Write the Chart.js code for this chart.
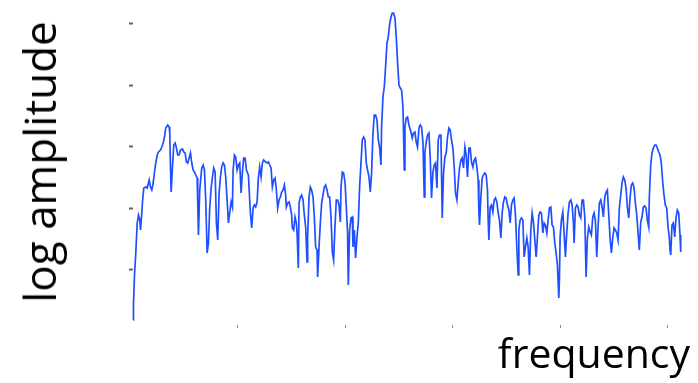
<!DOCTYPE html>
<html>
<head>
<meta charset="utf-8">
<script src="https://cdn.jsdelivr.net/npm/chart.js@4/dist/chart.umd.min.js"></script>
<style>
  html, body { margin: 0; padding: 0; background: #fff; }
  #wrap { position: relative; width: 698px; height: 383px; overflow: hidden; }
  #wrap canvas { position: absolute; left: 0; top: 0; }
  .lbl { position: absolute; font-family: "Open Sans", sans-serif; line-height: 1; color: #000; white-space: nowrap; }
  #ylab { left: 39px; top: 162px; font-size: 44px; transform: translate(-50%, -50%) rotate(-90deg); }
  #xlab { right: 8px; top: 332px; font-size: 41px; }
</style>
</head>
<body>
<div id="wrap">
  <canvas id="c" width="698" height="383"></canvas>
  <div class="lbl" id="ylab">log amplitude</div>
  <div class="lbl" id="xlab">frequency</div>
</div>
<script>
"use strict";
// spectrum (arbitrary units)
const freq = [
  2.7, 3.0, 4.0, 5.3, 6.7, 8.0, 9.3, 10.0, 11.3, 12.0, 13.3, 15.3, 16.7, 18.7, 20.0, 21.3, 22.7, 24.0, 25.3, 26.7,
  28.0, 30.0, 31.3, 32.7, 34.0, 35.3, 37.3, 38.7, 39.3, 40.0, 40.7, 42.0, 43.3, 44.7, 46.0, 47.3, 48.7, 50.0, 52.0, 53.3,
  54.7, 56.0, 57.3, 58.7, 60.0, 61.3, 62.7, 64.0, 65.3, 66.7, 67.3, 68.0, 69.3, 71.3, 72.7, 74.0, 75.3, 76.7, 78.0, 79.3,
  80.7, 82.0, 83.3, 84.7, 86.0, 87.3, 88.7, 90.0, 91.3, 92.7, 94.0, 95.3, 96.7, 98.0, 99.3, 100.7, 102.0, 102.7, 104.0, 105.3,
  106.7, 108.0, 109.3, 110.7, 112.0, 113.3, 114.7, 116.0, 118.0, 120.0, 121.3, 122.7, 124.0, 125.3, 126.7, 128.0, 129.3, 130.7, 132.0, 133.3,
  135.3, 136.7, 138.0, 139.3, 140.7, 142.0, 143.3, 144.7, 146.0, 147.3, 148.7, 150.0, 151.3, 152.7, 154.0, 155.3, 156.0, 157.3, 158.7, 160.0,
  161.3, 162.0, 163.3, 164.7, 166.0, 166.7, 168.0, 168.7, 170.0, 171.3, 172.7, 174.0, 175.3, 176.7, 177.3, 178.7, 180.0, 181.3, 182.7, 184.0,
  185.3, 186.7, 187.3, 188.7, 190.0, 191.3, 192.7, 194.0, 195.3, 196.7, 198.0, 199.3, 200.7, 202.0, 203.3, 204.7, 206.0, 207.3, 208.7, 210.0,
  210.7, 212.0, 213.3, 214.7, 216.0, 217.3, 218.0, 219.3, 220.7, 222.0, 222.7, 224.0, 225.3, 226.7, 228.0, 229.3, 230.7, 232.0, 233.3, 234.7,
  236.0, 237.3, 238.7, 240.0, 241.3, 242.7, 244.0, 245.3, 246.7, 248.0, 249.3, 250.7, 251.3, 252.7, 254.0, 255.3, 256.7, 258.0, 259.3, 260.7,
  262.0, 263.3, 264.7, 266.0, 267.3, 268.7, 270.0, 271.3, 272.7, 273.3, 274.0, 274.7, 276.0, 277.3, 278.7, 280.7, 282.0, 283.3, 284.7, 286.0,
  287.3, 288.7, 290.0, 291.3, 292.7, 294.0, 294.7, 296.0, 297.3, 298.7, 300.0, 301.3, 302.7, 304.0, 305.3, 306.7, 308.0, 309.3, 310.7, 312.0,
  313.3, 314.7, 316.0, 317.3, 318.7, 320.0, 321.3, 322.7, 324.0, 325.3, 326.7, 328.0, 329.3, 330.7, 332.0, 333.3, 334.7, 336.0, 337.3, 338.7,
  340.0, 341.3, 342.7, 344.0, 345.3, 346.7, 348.0, 348.7, 349.3, 350.7, 352.0, 353.3, 354.7, 356.0, 357.3, 358.0, 358.7, 360.0, 361.3, 362.7,
  364.0, 365.3, 366.7, 368.0, 369.3, 370.7, 372.0, 373.3, 374.7, 376.0, 377.3, 378.7, 380.0, 381.3, 382.7, 384.0, 385.3, 386.7, 388.0, 388.7,
  390.0, 391.3, 392.7, 394.0, 395.3, 396.7, 398.0, 399.3, 400.7, 402.0, 403.3, 404.7, 406.0, 407.3, 408.7, 410.0, 411.3, 412.7, 414.0, 415.3,
  416.7, 418.0, 419.3, 420.7, 422.0, 423.3, 424.7, 426.0, 427.3, 428.7, 429.3, 430.0, 431.3, 432.7, 434.0, 435.3, 436.7, 438.0, 439.3, 440.7,
  442.0, 443.3, 444.0, 445.3, 446.7, 448.0, 449.3, 450.7, 452.0, 453.3, 454.7, 456.0, 457.3, 458.7, 460.0, 461.3, 462.7, 464.0, 465.3, 466.7,
  468.0, 469.3, 470.7, 472.0, 473.3, 474.7, 476.0, 477.3, 478.7, 480.0, 481.3, 482.7, 484.0, 485.3, 486.7, 488.0, 489.3, 490.7, 492.0, 493.3,
  494.7, 496.0, 497.3, 498.7, 500.0, 501.3, 502.7, 504.0, 505.3, 506.7, 508.0, 509.3, 510.7, 512.0, 513.3, 514.7, 516.0, 517.3, 518.7, 519.3,
  520.7, 522.0, 523.3, 524.7, 526.0, 527.3, 528.7, 530.0, 531.3, 532.7, 534.0, 535.3, 536.7, 538.0, 539.3, 540.0, 540.7, 542.0, 543.3, 544.7,
  546.0, 547.3, 548.7, 550.0, 550.7
];
const amp = [
  11, 28, 56, 78, 108, 116, 111, 101, 118, 129, 143, 144, 143, 151, 144, 141, 148, 159, 168, 176,
  179, 181, 184, 188, 194, 203, 206, 204, 198, 164, 139, 164, 186, 188, 183, 176, 176, 181, 182, 179,
  178, 169, 168, 173, 178, 168, 161, 159, 156, 153, 128, 96, 141, 163, 166, 161, 131, 78, 88, 123,
  143, 154, 163, 159, 108, 91, 138, 154, 164, 168, 166, 154, 131, 108, 118, 129, 124, 161, 176, 174,
  161, 166, 168, 138, 159, 173, 173, 161, 156, 118, 103, 123, 126, 124, 129, 153, 164, 154, 168, 171,
  169, 168, 169, 166, 163, 144, 151, 153, 141, 123, 131, 134, 139, 141, 146, 136, 124, 128, 129, 124,
  116, 103, 101, 114, 108, 98, 63, 128, 134, 136, 131, 116, 104, 69, 94, 134, 144, 141, 134, 114,
  84, 81, 54, 84, 108, 128, 136, 144, 146, 141, 134, 134, 114, 79, 71, 106, 131, 131, 126, 109,
  144, 159, 158, 149, 124, 98, 46, 101, 113, 114, 84, 101, 73, 94, 108, 144, 168, 191, 194, 191,
  168, 161, 154, 139, 158, 198, 216, 216, 211, 191, 184, 166, 204, 234, 244, 264, 288, 294, 306, 314,
  318, 318, 313, 294, 269, 246, 243, 241, 224, 198, 161, 204, 213, 214, 206, 199, 193, 198, 199, 189,
  184, 203, 206, 204, 189, 134, 179, 189, 196, 198, 173, 133, 159, 166, 168, 143, 191, 196, 196, 113,
  158, 174, 178, 194, 203, 201, 191, 183, 164, 138, 131, 148, 163, 171, 173, 163, 184, 176, 154, 183,
  183, 169, 164, 171, 173, 164, 151, 119, 106, 134, 153, 156, 158, 156, 141, 111, 91, 124, 126, 119,
  131, 133, 129, 118, 111, 93, 118, 129, 134, 133, 126, 121, 108, 126, 131, 133, 116, 83, 56, 101,
  111, 113, 111, 74, 84, 93, 84, 56, 101, 118, 109, 91, 74, 94, 116, 119, 118, 98, 108, 106,
  98, 111, 123, 124, 106, 104, 88, 78, 66, 33, 51, 94, 111, 119, 98, 74, 99, 118, 129, 131,
  126, 108, 88, 123, 126, 124, 116, 113, 131, 131, 114, 54, 93, 104, 99, 96, 114, 118, 111, 74,
  104, 128, 131, 124, 114, 134, 139, 141, 116, 93, 78, 93, 103, 101, 98, 91, 123, 136, 148, 154,
  151, 143, 124, 113, 133, 146, 148, 143, 128, 116, 98, 81, 109, 114, 124, 125, 123, 111, 104, 134,
  166, 178, 183, 186, 186, 183, 179, 176, 168, 149, 136, 126, 123, 104, 94, 81, 76, 106, 108, 94,
  113, 121, 118, 96, 79
];
// hidden-label tick positions on both axes
const xTicks = [107.5, 215, 322.5, 430, 537.5];
const yTicks = [61.5, 123, 184.5, 246, 307.5];

const pts = freq.map((f, i) => ({ x: f, y: amp[i] }));

new Chart(document.getElementById("c"), {
  type: "line",
  data: { datasets: [{ data: pts, borderColor: "#1f4fff", borderWidth: 1.7, pointRadius: 0, tension: 0, fill: false, clip: false }] },
  options: {
    responsive: false,
    animation: false,
    devicePixelRatio: 1,
    layout: { padding: { left: 129, right: 17, top: 10, bottom: 55 } },
    plugins: { legend: { display: false }, tooltip: { enabled: false } },
    scales: {
      x: {
        type: "linear", min: 2.5, max: 551,
        afterBuildTicks: s => { s.ticks = xTicks.map(v => ({ value: v })); },
        ticks: { display: false },
        border: { display: false },
        grid: { drawOnChartArea: false, drawTicks: true, tickLength: 3, tickWidth: 1, tickColor: "#888" }
      },
      y: {
        min: 6, max: 321,
        afterBuildTicks: s => { s.ticks = yTicks.map(v => ({ value: v })); },
        ticks: { display: false },
        border: { display: false },
        grid: { drawOnChartArea: false, drawTicks: true, tickLength: 4, tickWidth: 2, tickColor: "#666" }
      }
    }
  }
});
</script>
</body>
</html>
